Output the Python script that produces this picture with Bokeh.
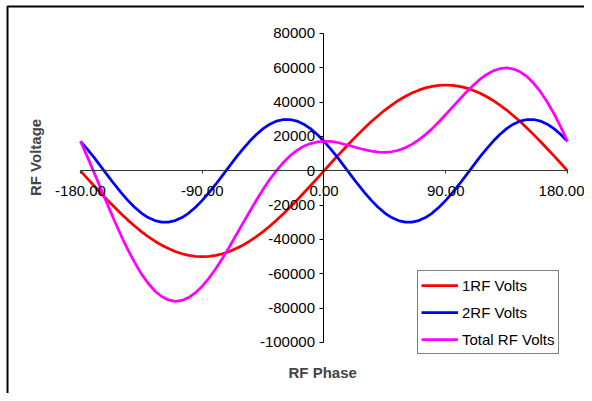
from math import pi
from bokeh.plotting import figure
from bokeh.models import (LinearAxis, FixedTicker, NumeralTickFormatter, Label,
                          Legend, LegendItem, Range1d, BoxAnnotation)
from bokeh.embed import file_html
from bokeh.resources import INLINE

# ---- data ----
phase = [-180, -175, -170, -165, -160, -155, -150, -145, -140, -135,
         -130, -125, -120, -115, -110, -105, -100, -95, -90, -85,
         -80, -75, -70, -65, -60, -55, -50, -45, -40, -35,
         -30, -25, -20, -15, -10, -5, 0, 5, 10, 15,
         20, 25, 30, 35, 40, 45, 50, 55, 60, 65,
         70, 75, 80, 85, 90, 95, 100, 105, 110, 115,
         120, 125, 130, 135, 140, 145, 150, 155, 160, 165,
         170, 175, 180]

rf1_volts = [0, -4400, -8700, -12900, -17100, -21100, -25000, -28700, -32100, -35400,
             -38300, -41000, -43300, -45300, -47000, -48300, -49200, -49800, -50000, -49800,
             -49200, -48300, -47000, -45300, -43300, -41000, -38300, -35400, -32100, -28700,
             -25000, -21100, -17100, -12900, -8700, -4400, 0, 4400, 8700, 12900,
             17100, 21100, 25000, 28700, 32100, 35400, 38300, 41000, 43300, 45300,
             47000, 48300, 49200, 49800, 50000, 49800, 49200, 48300, 47000, 45300,
             43300, 41000, 38300, 35400, 32100, 28700, 25000, 21100, 17100, 12900,
             8700, 4400, 0]

rf2_volts = [17200, 12700, 7800, 2600, -2600, -7800, -12700, -17200, -21200, -24600,
             -27200, -29000, -29900, -29900, -29000, -27200, -24600, -21200, -17200, -12700,
             -7800, -2600, 2600, 7800, 12700, 17200, 21200, 24600, 27200, 29000,
             29900, 29900, 29000, 27200, 24600, 21200, 17200, 12700, 7800, 2600,
             -2600, -7800, -12700, -17200, -21200, -24600, -27200, -29000, -29900, -29900,
             -29000, -27200, -24600, -21200, -17200, -12700, -7800, -2600, 2600, 7800,
             12700, 17200, 21200, 24600, 27200, 29000, 29900, 29900, 29000, 27200,
             24600, 21200, 17200]

total_volts = [17200, 8300, -900, -10300, -19700, -28900, -37700, -45900, -53300, -60000,
               -65500, -70000, -73200, -75200, -76000, -75500, -73800, -71000, -67200, -62500,
               -57000, -50900, -44400, -37500, -30600, -23800, -17100, -10800, -4900, 300,
               4900, 8800, 11900, 14300, 15900, 16800, 17200, 17100, 16500, 15500,
               14500, 13300, 12300, 11500, 10900, 10800, 11100, 12000, 13400, 15400,
               18000, 21100, 24600, 28600, 32800, 37100, 41400, 45700, 49600, 53100,
               56000, 58200, 59500, 60000, 59300, 57700, 54900, 51000, 46100, 40100,
               33300, 25600, 17200]

series_names = ["1RF Volts", "2RF Volts", "Total RF Volts"]
x_ticks = [-180, -90, 0, 90, 180]
y_ticks = [-100000, -80000, -60000, -40000, -20000, 0, 20000, 40000, 60000, 80000]

FONT = "Liberation Sans"

p = figure(width=584, height=393,
           x_range=Range1d(-239.14, 192.57), y_range=Range1d(-129709, 99223),
           output_backend="svg", toolbar_location=None, tools="",
           x_axis_location=None, y_axis_location=None, min_border=0)
p.xgrid.visible = False
p.ygrid.visible = False
p.background_fill_color = "white"
p.border_fill_color = "white"
p.outline_line_color = None

# chart-area border (left/top visible, right/bottom run off the picture)
p.add_layout(BoxAnnotation(left=-233.96, top=95728, right=1000, bottom=-10000000,
                           fill_alpha=0, line_color="black", line_alpha=1.0,
                           line_width=2))

xaxis = LinearAxis(fixed_location=0, bounds=(-180, 180),
                   ticker=FixedTicker(ticks=x_ticks, minor_ticks=[]),
                   formatter=NumeralTickFormatter(format="0.00"),
                   major_tick_out=3, major_tick_in=0,
                   minor_tick_out=0, minor_tick_in=0,
                   axis_line_color="#333333", major_tick_line_color="#333333",
                   major_label_standoff=12,
                   major_label_text_font=FONT, major_label_text_font_size="15px",
                   major_label_text_color="black")
p.add_layout(xaxis, "below")

yaxis = LinearAxis(fixed_location=0, bounds=(-100000, 80000),
                   ticker=FixedTicker(ticks=y_ticks, minor_ticks=[]),
                   formatter=NumeralTickFormatter(format="0"),
                   major_tick_out=4, major_tick_in=0,
                   minor_tick_out=0, minor_tick_in=0,
                   axis_line_color="black", major_tick_line_color="black",
                   major_label_standoff=5,
                   major_label_text_font=FONT, major_label_text_font_size="15px",
                   major_label_text_color="black")
p.add_layout(yaxis, "left")

r1 = p.line(phase, rf1_volts, line_color="#FF0000", line_width=2.75)
r2 = p.line(phase, rf2_volts, line_color="#0000FF", line_width=2.75)
r3 = p.line(phase, total_volts, line_color="#FF00FF", line_width=2.75)

legend = Legend(items=[LegendItem(label=series_names[0], renderers=[r1]),
                       LegendItem(label=series_names[1], renderers=[r2]),
                       LegendItem(label=series_names[2], renderers=[r3])],
                location=(417, 39), margin=0, padding=3, spacing=5,
                glyph_width=37, glyph_height=22, label_height=22,
                label_standoff=4, label_text_font=FONT,
                label_text_font_size="15px", label_text_color="black",
                border_line_color="black", border_line_width=1,
                background_fill_color="white", background_fill_alpha=1)
p.add_layout(legend)

p.add_layout(Label(x=-213.3, y=7800, text="RF Voltage", angle=pi / 2,
                   text_align="center", text_baseline="middle",
                   text_font=FONT, text_font_style="bold", text_font_size="15px"))
p.add_layout(Label(x=-1, y=-117500, text="RF Phase",
                   text_align="center", text_baseline="middle",
                   text_font=FONT, text_font_style="bold", text_font_size="15px"))

open("out.html", "w").write(file_html(p, INLINE))
